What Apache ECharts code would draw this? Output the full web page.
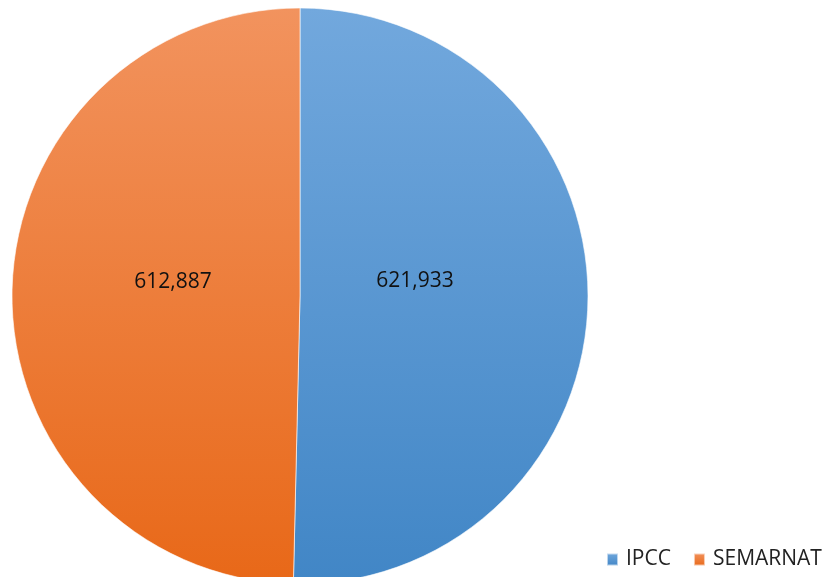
<!DOCTYPE html>
<html>
<head>
<meta charset="utf-8">
<script src="https://cdn.jsdelivr.net/npm/echarts@6/dist/echarts.min.js"></script>
<style>
  html, body { margin: 0; padding: 0; background: #fff; }
  #chart { width: 823px; height: 577px; }
</style>
</head>
<body>
<div id="chart"></div>
<script>
const categories = ['IPCC', 'SEMARNAT'];
const values = [621933, 612887];

const fills = [
  ['#72a8dd', '#4186c6'],
  ['#f2935e', '#e86818']
];
// shift the inside labels toward where the original put them
const labelShift = [[-32, -17], [20, -12]];

function grad(pair) {
  return new echarts.graphic.LinearGradient(0, 0, 0, 1, [
    {offset: 0, color: pair[0]},
    {offset: 1, color: pair[1]}
  ]);
}

const chart = echarts.init(document.getElementById('chart'));

chart.setOption({
  animation: false,
  legend: {
    left: 606,
    top: 549,
    padding: 0,
    icon: 'rect',
    itemWidth: 11,
    itemHeight: 12,
    itemGap: 22,
    textStyle: {fontFamily: 'Open Sans', fontSize: 21, color: '#222', padding: [0, 0, 0, 3]},
    data: categories
  },
  series: [{
    type: 'pie',
    center: [300, 296],
    radius: 288,
    startAngle: 90,
    clockwise: true,
    itemStyle: {borderColor: 'rgba(255,255,255,0.6)', borderWidth: 1},
    label: {
      position: 'inside',
      fontFamily: 'Open Sans',
      fontSize: 21,
      color: '#111',
      formatter: (p) => p.value.toLocaleString('en-US')
    },
    labelLayout: (p) => ({dx: labelShift[p.dataIndex][0], dy: labelShift[p.dataIndex][1]}),
    emphasis: {disabled: true},
    data: categories.map((name, i) => ({
      name: name,
      value: values[i],
      itemStyle: {color: grad(fills[i])}
    }))
  }]
});
</script>
</body>
</html>
